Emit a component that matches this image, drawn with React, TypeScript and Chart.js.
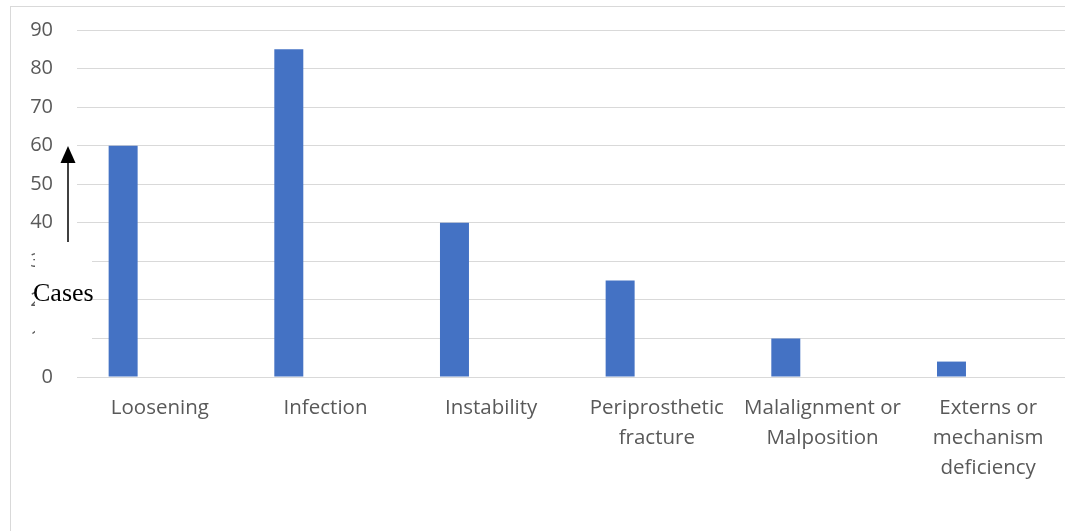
import React, { useEffect, useRef } from "react";
import { Chart, registerables } from "chart.js";

Chart.register(...registerables);

// Revision causes and number of cases
const categories: (string | string[])[] = [
  "Loosening",
  "Infection",
  "Instability",
  ["Periprosthetic", "fracture"],
  ["Malalignment or", "Malposition"],
  ["Externs or", "mechanism", "deficiency"],
];
const caseCounts = [60, 85, 40, 25, 10, 4];
// second (empty) series keeps the bars on the left half of each category
const emptySeries = [null, null, null, null, null, null];

const yMin = 0;
const yMax = 90;
const yStep = 10;

const axisTextColor = "#595959";
const gridColor = "#d9d9d9";
const barColor = "#4472c4";

// Frame, "Cases" caption with its white backing, and the upward arrow
const overlayPlugin = {
  id: "overlay",
  afterDraw(chart: Chart) {
    const ctx = chart.ctx;
    ctx.save();
    ctx.strokeStyle = gridColor;
    ctx.lineWidth = 1;
    ctx.strokeRect(10.5, 6.5, 1200, 700);

    ctx.fillStyle = "#ffffff";
    ctx.fillRect(35, 245, 57, 110);

    ctx.fillStyle = "#000000";
    ctx.font = "26px 'Liberation Serif', 'Times New Roman', serif";
    ctx.textBaseline = "alphabetic";
    ctx.textAlign = "left";
    ctx.fillText("Cases", 33, 301);

    ctx.strokeStyle = "#000000";
    ctx.lineWidth = 1.5;
    ctx.beginPath();
    ctx.moveTo(68, 242);
    ctx.lineTo(68, 160);
    ctx.stroke();
    ctx.beginPath();
    ctx.moveTo(68, 146);
    ctx.lineTo(60.5, 163);
    ctx.lineTo(75.5, 163);
    ctx.closePath();
    ctx.fill();
    ctx.restore();
  },
};

export default function App() {
  const canvasRef = useRef<HTMLCanvasElement | null>(null);

  useEffect(() => {
    if (!canvasRef.current) return;
    const chart = new Chart(canvasRef.current, {
      type: "bar",
      data: {
        labels: categories,
        datasets: [
          {
            label: "Cases",
            data: caseCounts,
            backgroundColor: barColor,
            borderWidth: 0,
          },
          {
            label: "",
            data: emptySeries,
            backgroundColor: barColor,
            borderWidth: 0,
          },
        ],
      },
      options: {
        responsive: false,
        animation: false,
        devicePixelRatio: 1,
        categoryPercentage: 0.886,
        barPercentage: 0.395,
        layout: { padding: { top: 30, right: 9, bottom: 0, left: 0 } },
        plugins: {
          legend: { display: false },
          tooltip: { enabled: false },
        },
        scales: {
          x: {
            grid: { display: false },
            border: { display: false },
            ticks: {
              color: axisTextColor,
              font: { family: "'Open Sans', sans-serif", size: 20.5, lineHeight: 1.46 },
              maxRotation: 0,
              autoSkip: false,
              padding: 8,
            },
            afterFit(scale: any) {
              scale.height = 154;
            },
          },
          y: {
            min: yMin,
            max: yMax,
            grid: { color: gridColor, lineWidth: 1, drawTicks: false },
            border: { display: false },
            ticks: {
              stepSize: yStep,
              color: axisTextColor,
              font: { family: "'Open Sans', sans-serif", size: 20 },
              padding: 24,
            },
            afterFit(scale: any) {
              scale.width = 77;
              scale.paddingTop = 0;
              scale.paddingBottom = 0;
            },
          },
        },
      },
      plugins: [overlayPlugin],
    });
    return () => chart.destroy();
  }, []);

  return (
    <div
      style={{
        position: "fixed",
        left: 0,
        top: 0,
        width: 1065,
        height: 531,
        overflow: "hidden",
        background: "#ffffff",
      }}
    >
      <canvas ref={canvasRef} width={1080} height={531} />
    </div>
  );
}
